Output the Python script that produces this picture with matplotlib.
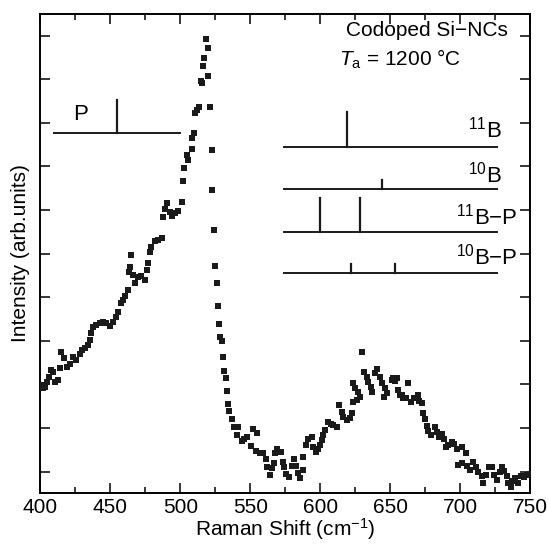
import matplotlib
matplotlib.use("Agg")
import matplotlib.pyplot as plt
from matplotlib.ticker import MultipleLocator, NullFormatter

plt.rcParams['font.family'] = ['Liberation Sans', 'DejaVu Sans']
plt.rcParams['mathtext.fontset'] = 'custom'
plt.rcParams['mathtext.rm'] = 'Liberation Sans'
plt.rcParams['mathtext.it'] = 'Liberation Sans:italic'

raman_shift = [
    400.7, 401.9, 403.0, 405.0, 406.0, 407.4, 409.1, 410.7, 412.6, 413.8,
    415.0, 416.9, 419.3, 421.0, 423.4, 425.7, 428.1, 429.8, 432.1, 434.1,
    435.3, 436.4, 437.6, 440.0, 442.4, 444.8, 447.1, 449.6, 451.9, 454.3,
    455.5, 457.4, 459.1, 460.7, 462.6, 463.1, 463.9, 465.0, 466.2, 467.9,
    469.8, 472.1, 475.0, 476.4, 476.9, 478.1, 479.3, 481.7, 484.0, 486.9,
    487.6, 488.9, 490.5, 492.4, 494.1, 496.0, 498.4, 501.0, 502.0, 502.9,
    504.6, 505.7, 508.0, 508.6, 509.8, 510.7, 512.0, 513.4, 514.6, 515.5,
    516.5, 517.2, 518.4, 519.5, 520.0, 521.2, 522.4, 522.9, 524.0, 525.0,
    526.0, 527.2, 527.9, 528.6, 529.8, 530.7, 531.4, 532.4, 533.6, 534.3,
    535.0, 536.7, 538.4, 540.3, 541.4, 543.8, 545.5, 547.4, 550.3, 552.1,
    554.0, 555.0, 556.9, 559.3, 561.2, 562.1, 564.0, 565.3, 567.2, 567.6,
    569.3, 571.9, 573.1, 574.0, 575.5, 577.9, 579.6, 581.2, 582.7, 583.8,
    585.5, 587.4, 587.9, 589.6, 591.0, 593.9, 595.0, 596.7, 598.6, 599.8,
    601.0, 602.2, 603.4, 605.7, 607.5, 609.3, 611.7, 613.4, 615.3, 616.4,
    618.9, 621.2, 622.4, 623.0, 623.6, 624.8, 626.0, 627.2, 628.4, 629.6,
    631.4, 633.1, 634.3, 636.2, 636.7, 639.1, 640.3, 642.6, 643.9, 645.7,
    646.2, 647.4, 651.0, 652.1, 653.4, 654.6, 655.7, 656.9, 658.1, 659.3,
    661.5, 662.4, 664.8, 667.1, 669.6, 670.5, 672.4, 673.6, 674.8, 676.0,
    677.1, 679.1, 681.9, 683.1, 684.8, 687.1, 688.6, 689.6, 691.4, 693.8,
    695.7, 697.4, 698.1, 701.0, 701.5, 703.9, 704.6, 706.9, 709.3, 711.0,
    712.9, 715.7, 716.4, 718.1, 720.5, 722.9, 724.3, 726.0, 728.4, 730.0,
    731.4, 733.1, 734.3, 736.2, 737.1, 739.1, 741.4, 743.3, 745.3, 747.4,
    749.5,
]
intensity = [
    1.99, 1.91, 1.95, 2.06, 2.18, 2.33, 2.29, 2.06, 2.10, 2.37,
    2.75, 2.60, 2.41, 2.48, 2.64, 2.56, 2.71, 2.79, 2.83, 2.90,
    3.02, 3.17, 3.33, 3.36, 3.40, 3.44, 3.40, 3.34, 3.44, 3.55,
    3.67, 3.86, 3.94, 4.03, 4.17, 4.59, 4.70, 4.97, 4.51, 4.33,
    4.46, 4.49, 4.40, 4.63, 4.78, 5.05, 5.16, 5.28, 5.31, 5.35,
    5.85, 6.02, 6.16, 5.96, 5.87, 5.94, 5.99, 6.19, 6.66, 6.97,
    7.26, 7.15, 7.40, 7.65, 7.76, 8.22, 8.30, 8.36, 8.97, 8.91,
    9.31, 9.48, 9.93, 9.71, 9.08, 8.36, 7.38, 6.46, 5.54, 4.72,
    4.32, 3.80, 3.38, 3.10, 3.00, 2.62, 2.32, 2.16, 1.85, 1.55,
    1.39, 1.20, 1.03, 0.84, 1.02, 0.71, 0.75, 0.80, 0.59, 0.97,
    0.47, 0.89, 0.42, 0.43, 0.28, 0.11, -0.08, 0.08, 0.20, 0.42,
    0.53, 0.46, 0.23, 0.11, -0.06, -0.12, 0.13, 0.30, 0.13, -0.03,
    -0.15, 0.04, 0.33, 0.61, 0.74, 0.80, 0.57, 0.46, 0.53, 0.61,
    0.72, 0.84, 0.95, 1.15, 1.10, 1.07, 1.03, 1.53, 1.37, 1.26,
    1.18, 1.22, 1.34, 2.03, 1.60, 1.91, 1.64, 1.83, 1.72, 2.75,
    2.29, 2.18, 2.06, 1.95, 1.83, 2.26, 2.35, 2.18, 2.03, 1.72,
    1.91, 1.80, 2.10, 2.14, 2.09, 2.14, 1.87, 1.76, 1.76, 1.70,
    1.70, 2.03, 1.60, 1.68, 1.76, 1.63, 1.57, 1.34, 1.20, 1.05,
    0.94, 0.84, 1.03, 0.92, 0.79, 0.86, 0.74, 0.56, 0.61, 0.69,
    0.63, 0.51, 0.15, 0.56, 0.19, 0.43, 0.13, 0.05, 0.23, 0.10,
    0.00, -0.10, -0.25, -0.08, 0.10, 0.10, -0.08, -0.18, 0.00, 0.11,
    0.02, -0.10, -0.25, -0.35, -0.21, -0.15, -0.25, -0.10, -0.12, -0.08,
    -0.05,
]

# calculated mode positions (stick diagrams)
p_modes = [455]
b11_modes = [619]
b10_modes = [644]
b11p_modes = [600, 628]
b10p_modes = [622, 653]

fig = plt.figure(figsize=(5.48, 5.56), dpi=100)
ax = fig.add_axes([0.0737, 0.114, 0.894, 0.861])

ax.scatter(raman_shift, intensity, marker='s', s=20, color='#1a1a1a',
           linewidths=0, zorder=3)


def stick_row(modes, x0, x1, base, height, label=None, lx=None, ly=None):
    ax.plot([x0, x1], [base, base], color='#1a1a1a', lw=1.4)
    for m in modes:
        ax.plot([m, m], [base, base + height], color='#1a1a1a', lw=1.6)
    if label:
        ax.text(lx, ly, label, ha='right', va='center', fontsize=16)


stick_row(p_modes, 410, 500, 7.76, 0.77)
ax.text(428.5, 8.2, 'P', ha='center', va='center', fontsize=16)
stick_row(b11_modes, 574, 726, 7.44, 0.81, '$^{11}$B', 730, 7.85)
stick_row(b10_modes, 574, 726, 6.48, 0.21, '$^{10}$B', 730, 6.82)
stick_row(b11p_modes, 574, 726, 5.49, 0.79, '$^{11}$B\u2212P', 741, 5.85)
stick_row(b10p_modes, 574, 726, 4.55, 0.22, '$^{10}$B\u2212P', 741, 4.93)

ax.text(734, 10.12, 'Codoped Si\u2212NCs', ha='right', va='center', fontsize=15)
ax.text(613, 9.45, '$T_\\mathregular{a}$ = 1200 \u00b0C', ha='left', va='center',
        fontsize=15)

ax.set_xlim(400, 750)
ax.set_ylim(-0.48, 10.5)
ax.xaxis.set_major_locator(MultipleLocator(50))
ax.xaxis.set_minor_locator(MultipleLocator(25))
ax.yaxis.set_major_locator(MultipleLocator(1))
ax.yaxis.set_major_formatter(NullFormatter())
ax.tick_params(which='both', direction='in', top=True, right=True, width=1.1,
               labelsize=15)
ax.tick_params(which='major', length=7)
ax.tick_params(which='minor', length=4)
ax.tick_params(axis='x', pad=4)
for s in ax.spines.values():
    s.set_linewidth(1.4)

ax.set_xlabel('Raman Shift (cm$^{-1}$)', fontsize=15, labelpad=-1)
ax.set_ylabel('Intensity (arb.units)', fontsize=15, labelpad=4)

fig.savefig('out.png', dpi=100)
